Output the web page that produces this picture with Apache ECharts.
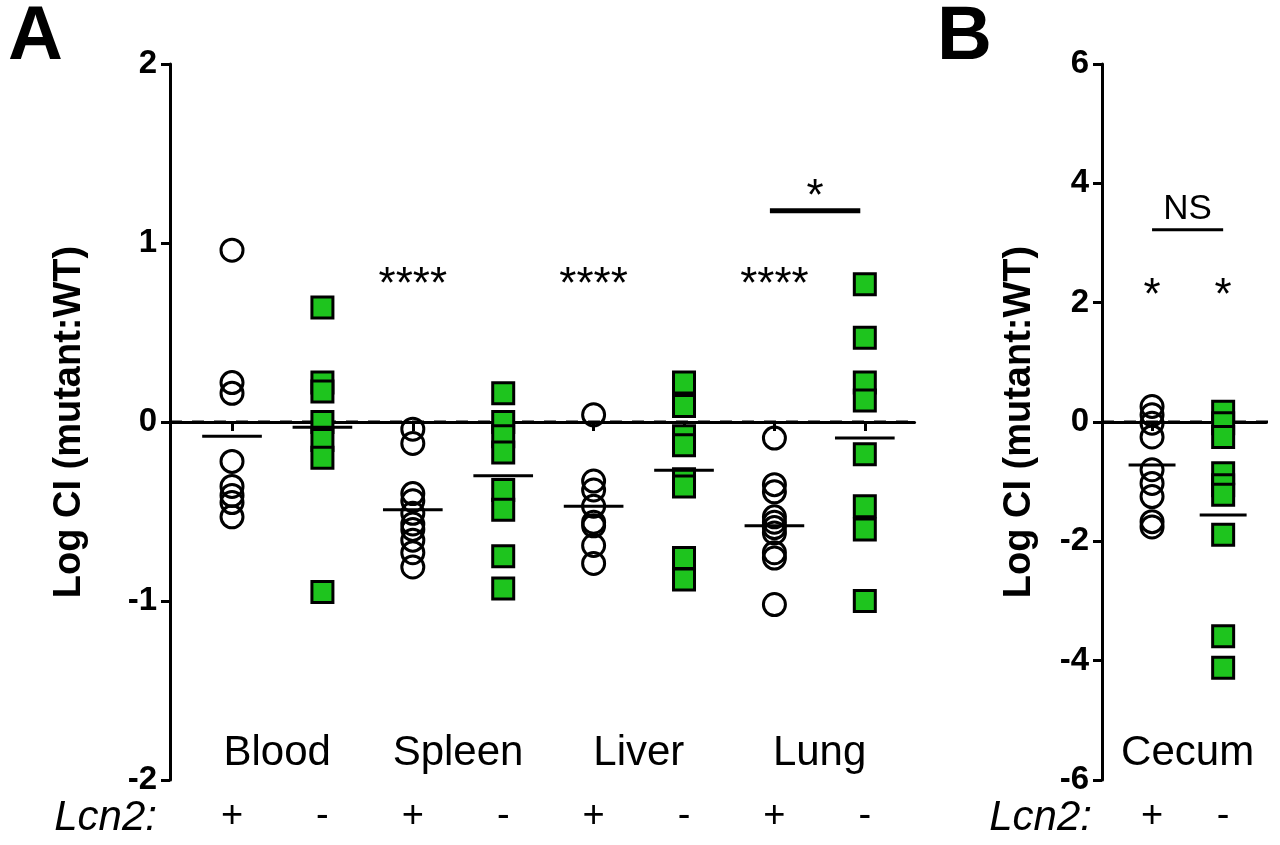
<!DOCTYPE html>
<html>
<head>
<meta charset="utf-8">
<script src="https://cdn.jsdelivr.net/npm/echarts@6/dist/echarts.min.js"></script>
<style>
html,body{margin:0;padding:0;background:#fff;}
#chart{width:1280px;height:845px;}
</style>
</head>
<body>
<div id="chart"></div>
<script>
// ---- data ----
const groupsA = ['Blood', 'Spleen', 'Liver', 'Lung'];
const groupsB = ['Cecum'];
const tickLabels = ['+', '-'];
const bloodPlus   = [0.96, 0.22, 0.16, -0.22, -0.36, -0.41, -0.45, -0.53];
const bloodMinus  = [0.64, 0.22, 0.17, 0.0, -0.10, -0.20, -0.95];
const spleenPlus  = [-0.04, -0.12, -0.40, -0.44, -0.51, -0.57, -0.60, -0.66, -0.73, -0.81];
const spleenMinus = [0.16, 0.0, -0.08, -0.17, -0.38, -0.49, -0.75, -0.93];
const liverPlus   = [0.04, -0.33, -0.38, -0.47, -0.56, -0.58, -0.69, -0.79];
const liverMinus  = [0.22, 0.09, -0.08, -0.13, -0.32, -0.36, -0.76, -0.88];
const lungPlus    = [-0.09, -0.35, -0.39, -0.53, -0.56, -0.59, -0.62, -0.73, -0.76, -1.02];
const lungMinus   = [0.77, 0.47, 0.22, 0.12, -0.18, -0.47, -0.60, -1.00];
const cecumPlus   = [0.26, 0.12, -0.02, -0.25, -0.80, -1.03, -1.25, -1.67, -1.76];
const cecumMinus  = [0.17, -0.02, -0.25, -0.86, -1.06, -1.22, -1.89, -3.59, -4.12];
const meansA = [-0.08, -0.03, -0.49, -0.30, -0.47, -0.27, -0.58, -0.09];
const meansB = [-0.72, -1.56];
const starsA = ['', '****', '****', '****'];   // above each "+" column
const starsAY = 0.76;
const sigBarA = {from: 7, to: 8, y: 1.18, label: '*', labelY: 1.25};
const starsB = ['*', '*'];
const starsBY = 2.09;
const sigBarB = {from: 1, to: 2, y: 3.22, label: 'NS', labelY: 3.56};
const yTicksA = {min: -2, max: 2, interval: 1};
const yTicksB = {min: -6, max: 6, interval: 2};

// ---- build options ----
const GREEN = '#1ec41e';
const FONT = 'Arial, Liberation Sans, sans-serif';

const circleStyle = {color: 'rgba(255,255,255,0)', borderColor: '#000', borderWidth: 3, opacity: 1};
const squareStyle = {color: GREEN, borderColor: '#000', borderWidth: 3, opacity: 1};

function pts(arr, x) { return arr.map(v => [x, v]); }

function scatter(arr, x, kind, gi) {
  return {
    type: 'scatter', xAxisIndex: gi, yAxisIndex: gi,
    symbol: kind === 'c' ? 'circle' : 'rect',
    symbolSize: kind === 'c' ? 22 : 21,
    itemStyle: kind === 'c' ? circleStyle : squareStyle,
    data: pts(arr, x), z: kind === 'c' ? 4 : 3,
    silent: true, clip: false
  };
}

const seriesA = [
  [bloodPlus, 'c'], [bloodMinus, 's'], [spleenPlus, 'c'], [spleenMinus, 's'],
  [liverPlus, 'c'], [liverMinus, 's'], [lungPlus, 'c'], [lungMinus, 's']
].map((d, i) => scatter(d[0], i + 1, d[1], 0));
const seriesB = [[cecumPlus, 'c'], [cecumMinus, 's']].map((d, i) => scatter(d[0], i + 1, d[1], 1));

function segSeries(gi, items, width, dash, z) {
  // items: [x1, x2, y]
  return {
    type: 'custom', xAxisIndex: gi, yAxisIndex: gi, silent: true, z: z || 6, clip: false,
    data: items,
    renderItem: function (params, api) {
      const p1 = api.coord([api.value(0), api.value(2)]);
      const p2 = api.coord([api.value(1), api.value(2)]);
      const st = {stroke: '#000', lineWidth: width};
      if (dash) st.lineDash = dash;
      return {type: 'line', shape: {x1: p1[0], y1: p1[1], x2: p2[0], y2: p2[1]}, style: st};
    }
  };
}
const HW = 0.33;
const meanSegA = meansA.map((m, i) => [i + 1 - HW, i + 1 + HW, m]);
const meanSegB = meansB.map((m, i) => [i + 1 - HW, i + 1 + HW, m]);

function textSeries(gi, items, fontSize, fontWeight) {
  return {
    type: 'scatter', xAxisIndex: gi, yAxisIndex: gi, symbolSize: 0, silent: true, clip: false, z: 7,
    itemStyle: {opacity: 1},
    data: items.map(t => ({value: [t[0], t[1]], name: t[2]})),
    label: {show: true, position: 'inside', formatter: p => p.name, color: '#000',
            fontSize: fontSize, fontWeight: fontWeight || 'normal', fontFamily: FONT}
  };
}

const catTextA = groupsA.map((g, i) => [2 * i + 1.5, -1.85, g]);
const catTextB = groupsB.map((g, i) => [1.5, -5.55, g]);
const starTextA = starsA.map((s, i) => [2 * i + 1, starsAY, s]).filter(t => t[2]);
const starTextB = starsB.map((s, i) => [i + 1, starsBY, s]);

const XA = {min: 0.314, max: 8.55};
const XB = {min: 0.296, max: 2.6};

function xAxisCfg(gi, r, n) {
  const vals = [];
  for (let i = 1; i <= n; i++) vals.push(i);
  return {
    type: 'value', gridIndex: gi, min: r.min, max: r.max, splitLine: {show: false},
    axisLine: {lineStyle: {color: '#000', width: 3}},
    axisTick: {show: true, length: 9, lineStyle: {width: 3, color: '#000'}, customValues: vals},
    axisLabel: {customValues: vals, formatter: v => tickLabels[(Math.round(v) - 1) % 2],
                color: '#000', fontSize: 38, fontFamily: FONT, margin: 18}
  };
}
function yAxisCfg(gi, t, gap) {
  return {
    type: 'value', gridIndex: gi, min: t.min, max: t.max, interval: t.interval,
    splitLine: {show: false},
    axisLine: {show: true, lineStyle: {color: '#000', width: 3}},
    axisTick: {show: true, length: 9, lineStyle: {width: 3, color: '#000'}},
    axisLabel: {color: '#000', fontSize: 33, fontWeight: 'bold', fontFamily: FONT, margin: 13},
    name: 'Log CI (mutant:WT)', nameLocation: 'middle', nameGap: gap, nameRotate: 90,
    nameTextStyle: {color: '#000', fontSize: 38, fontWeight: 'bold', fontFamily: FONT}
  };
}

const option = {
  animation: false,
  backgroundColor: '#fff',
  grid: [
    {left: 170, top: 64, width: (XA.max - XA.min) * 90.4, height: 716},
    {left: 1102, top: 64, width: (XB.max - XB.min) * 71.1, height: 716}
  ],
  xAxis: [xAxisCfg(0, XA, 8), xAxisCfg(1, XB, 2)],
  yAxis: [yAxisCfg(0, yTicksA, 81), yAxisCfg(1, yTicksB, 63)],
  graphic: [
    {type: 'text', left: 8, top: 0, style: {text: 'A', fontSize: 76, fontWeight: 'bold', fontFamily: FONT, fill: '#000'}},
    {type: 'text', left: 937, top: 0, style: {text: 'B', fontSize: 76, fontWeight: 'bold', fontFamily: FONT, fill: '#000'}},
    {type: 'text', right: 1280 - 157, top: 797, style: {text: 'Lcn2:', fontSize: 42, fontStyle: 'italic', fontFamily: FONT, fill: '#000'}},
    {type: 'text', right: 1280 - 1092, top: 797, style: {text: 'Lcn2:', fontSize: 42, fontStyle: 'italic', fontFamily: FONT, fill: '#000'}}
  ],
  series: [].concat(
    [segSeries(0, [[XA.min, XA.max, 0]], 3, [12, 10], 1),
     segSeries(1, [[XB.min, 2.73, 0]], 3, [12, 10], 1)],
    seriesA, seriesB,
    [segSeries(0, meanSegA, 3), segSeries(1, meanSegB, 3),
     segSeries(0, [[sigBarA.from - 0.05, sigBarA.to - 0.05, sigBarA.y]], 5),
     segSeries(1, [[sigBarB.from, sigBarB.to, sigBarB.y]], 3),
     textSeries(0, catTextA, 42), textSeries(1, catTextB, 42),
     textSeries(0, starTextA, 44), textSeries(1, starTextB, 44),
     textSeries(0, [[(sigBarA.from + sigBarA.to) / 2 - 0.05, sigBarA.labelY, sigBarA.label]], 44),
     textSeries(1, [[(sigBarB.from + sigBarB.to) / 2, sigBarB.labelY, sigBarB.label]], 35)]
  )
};

const chart = echarts.init(document.getElementById('chart'), null, {renderer: 'canvas'});
chart.setOption(option);
</script>
</body>
</html>
